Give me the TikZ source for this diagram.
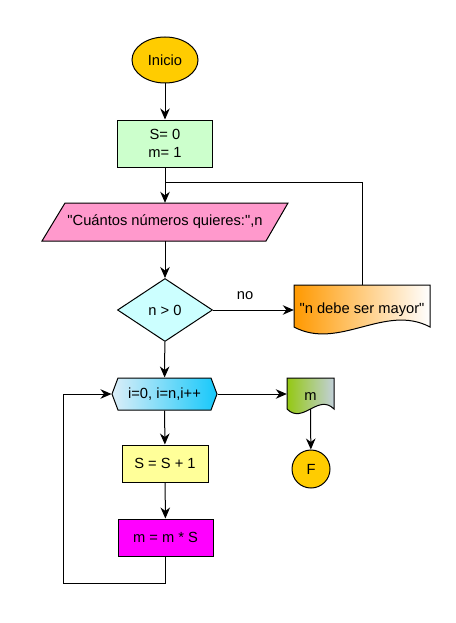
\documentclass[tikz,border=0pt]{standalone}
\usepackage{fontspec}
\setmainfont{Liberation Sans}[Ligatures=TeXOff]
\usetikzlibrary{shapes.geometric,shapes.symbols,arrows.meta}
\definecolor{goldc}{HTML}{FFCC00}
\definecolor{greenc}{HTML}{CCFFCC}
\definecolor{pinkc}{HTML}{FF99CC}
\definecolor{cyanc}{HTML}{CCFFFF}
\definecolor{yellowc}{HTML}{FFFF99}
\definecolor{magc}{HTML}{FF00FF}
\definecolor{hexl}{HTML}{DCEEF8}
\definecolor{hexr}{HTML}{16C8FA}
\definecolor{orangec}{HTML}{FF9900}
\definecolor{mdl}{HTML}{94C813}
\definecolor{mdr}{HTML}{C2D0DA}
\begin{document}
\begin{tikzpicture}[x=1pt,y=-1pt,
  base/.style={draw=black, line width=1pt, font=\fontsize{14.7}{17.6}\selectfont, inner sep=2pt, align=center, text=black},
  plain/.style={font=\fontsize{14.7}{17.6}\selectfont, inner sep=0pt, align=center},
  arr/.style={-{Stealth[length=11pt,width=9.5pt,inset=3.5pt]}, line width=1pt},
  ln/.style={line width=1pt},
]
\useasboundingbox[fill=white] (0,0) rectangle (455,623);

% nodes
\node[base, ellipse, fill=goldc, minimum width=66, minimum height=46] (inicio) at (165,60) {Inicio};
\node[base, rectangle, fill=greenc, minimum width=95, minimum height=47] (init) at (165,143.5) {S= 0\\m= 1};

% parallelogram
\draw[ln, fill=pinkc] (65,203) -- (288,203) -- (266,241) -- (42,241) -- cycle;
\node[plain, minimum width=224, minimum height=38] (inp) at (165,222) {"Cuántos números quieres:",n};

\node[base, diamond, aspect=1.5, fill=cyanc, minimum width=95, minimum height=63, inner sep=0pt] (dec) at (165,310) {n > 0};
\node[base, signal, signal to=west and east, signal pointer angle=139, left color=hexl, right color=hexr, minimum width=105, minimum height=32, inner sep=0pt] (hex) at (164.5,394) {i=0, i=n,i++};
\node[base, rectangle, fill=yellowc, minimum width=86, minimum height=37] (inc) at (165,463.5) {S = S + 1};
\node[base, rectangle, fill=magc, minimum width=95, minimum height=37] (mul) at (165.5,537.5) {m = m * S};
\node[base, circle, fill=goldc, minimum size=38, inner sep=0pt] (fin) at (311,469) {F};

% document "n debe ser mayor"
\draw[ln, left color=orangec, right color=white] (294,285) -- (430,285) -- (430,327)
  .. controls (385,303) and (339,351) .. (294,327) -- cycle;
\node[plain, minimum width=136, minimum height=42] (nodoc) at (362,310) {"n debe ser mayor"};
\coordinate (nodoctop) at (362,285);

% document "m"
\draw[ln, left color=mdl, right color=mdr] (287,378) -- (334,378) -- (334,409)
  .. controls (318,393) and (303,425) .. (287,409) -- cycle;
\node[plain, minimum width=47, minimum height=30] (mdoc) at (310.5,397) {m};
\coordinate (mdocbot) at (310.5,409);

\node[plain] (nolab) at (245,296) {no};

\coordinate (join) at (165,182);
\coordinate (loopc) at (63,583);

% connectors
\draw[arr] (inicio) -- (init);
\draw[arr] (init) -- (inp);
\draw[ln] (nodoctop) |- (join);
\draw[arr] (inp) -- (dec);
\draw[arr] (dec.east) -- (dec.east -| nodoc.west);
\draw[arr] (dec) -- (hex);
\draw[arr] (hex.east) -- (hex.east -| mdoc.west);
\draw[arr] (mdocbot) -- (fin);
\draw[arr] (hex) -- (inc);
\draw[arr] (inc) -- (mul);
\draw[arr] (mul.south) |- (loopc) |- (hex.west);
\end{tikzpicture}
\end{document}
